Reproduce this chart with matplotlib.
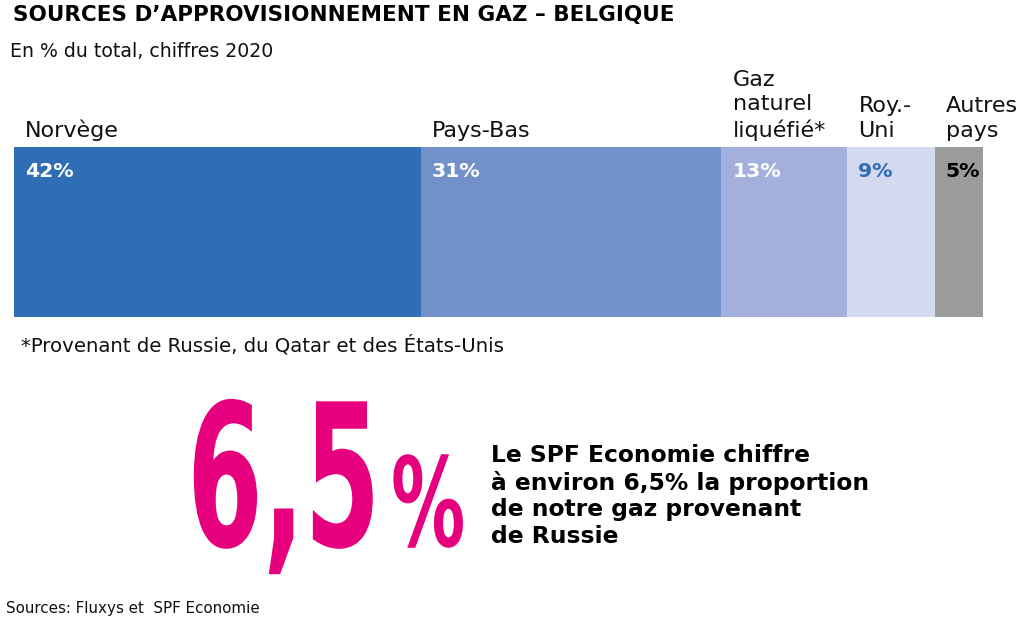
import numpy as np
import matplotlib.pyplot as plt
from matplotlib.patheffects import AbstractPathEffect
from matplotlib.transforms import Affine2D

# Donnees (en % du total, 2020)
categories = ['Norvège', 'Pays-Bas', 'Gaz\nnaturel\nliquéfié*', 'Roy.-\nUni', 'Autres\npays']
shares = [42, 31, 13, 9, 5]
russia_share = 6.5

title = 'SOURCES D\u2019APPROVISIONNEMENT EN GAZ \u2013 BELGIQUE'
subtitle = 'En % du total, chiffres 2020'
footnote = '*Provenant de Russie, du Qatar et des États-Unis'
comment = ('Le SPF Economie chiffre\n'
           'à environ 6,5% la proportion\n'
           'de notre gaz provenant\n'
           'de Russie')
sources = 'Sources: Fluxys et  SPF Economie'

bar_colors = ['#2f6db5', '#7291c9', '#a3b0dc', '#d3d9ef', '#9b9b9b']
value_colors = ['white', 'white', 'white', '#2f6db5', 'black']
pink = '#e6007e'

W, H = 1028, 624


def px(x, y):
    # pixels (origine en haut a gauche) -> fraction de figure
    return x / W, 1 - y / H


class Tall(AbstractPathEffect):
    # etire le texte verticalement depuis sa ligne de base (effet "condensed")
    def __init__(self, sy):
        super().__init__()
        self.sy = sy

    def draw_path(self, renderer, gc, tpath, affine, rgbFace=None):
        y0 = affine.get_matrix()[1, 2]
        st = Affine2D().translate(0, -y0).scale(1, self.sy).translate(0, y0)
        renderer.draw_path(gc, tpath, affine + st, rgbFace)


plt.rcParams['font.family'] = ['DejaVu Sans']
fig = plt.figure(figsize=(W / 100, H / 100), dpi=100)

# Barre empilee
ax = fig.add_axes([14 / W, (H - 317) / H, 969 / W, 170 / H])
lefts = np.concatenate([[0], np.cumsum(shares)[:-1]])
ax.barh(0, shares, left=lefts, height=1, color=bar_colors, linewidth=0)
ax.set_xlim(0, sum(shares))
ax.set_ylim(-0.5, 0.5)
ax.axis('off')

pad = 1.15
for cat, v, l, c in zip(categories, shares, lefts, value_colors):
    ax.annotate(cat, xy=(l + pad, 0.5), xytext=(0, 4.2), textcoords='offset points',
                ha='left', va='bottom', fontsize=16, color='#111111', linespacing=1.3)
    ax.annotate(f'{v}%', xy=(l + pad, 0.5), xytext=(0, -21.6), textcoords='offset points',
                ha='left', va='baseline', fontsize=14.7, fontweight='bold', color=c)

# Textes
fig.text(*px(13, 21), title, fontsize=15.5, fontweight='bold', va='baseline', ha='left')
fig.text(*px(10, 57), subtitle, fontsize=13.6, va='baseline', ha='left', color='#111111')
fig.text(*px(21, 352), footnote, fontsize=14.2, va='baseline', ha='left', color='#111111')
fig.text(*px(6, 613), sources, fontsize=10.9, va='baseline', ha='left', color='#111111')

# Grand chiffre
big = f'{russia_share:.1f}'.replace('.', ',')
fig.text(*px(187, 546), big, fontsize=78.6, fontweight='bold', color=pink,
         va='baseline', ha='left', path_effects=[Tall(1 / 0.55)])
fig.text(*px(391, 546), '%', fontsize=53.4, fontweight='bold', color=pink,
         va='baseline', ha='left', path_effects=[Tall(1 / 0.60)])

# 'baseline' porte ici sur la derniere ligne
fig.text(*px(491, 543), comment, fontsize=16.8, fontweight='bold', va='baseline',
         ha='left', linespacing=1.2, color='black')

fig.savefig('out.png', dpi=100, facecolor='white')
